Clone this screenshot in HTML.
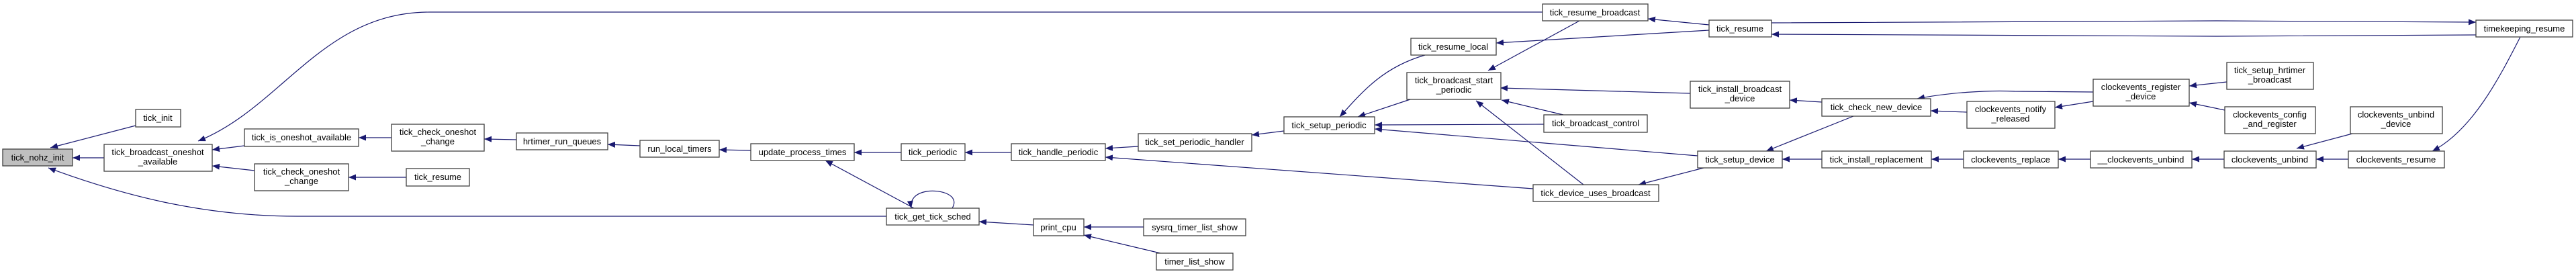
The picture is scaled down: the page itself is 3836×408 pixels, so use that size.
<!DOCTYPE html>
<html><head><meta charset="utf-8"><style>
html,body{margin:0;padding:0;background:#fff;}
svg{display:block;}
text{font-family:"Liberation Sans",sans-serif;font-size:13px;fill:#000;text-anchor:middle;}
rect{fill:#fff;stroke:#404040;stroke-width:1.3;}
path.e{fill:none;stroke:#191970;stroke-width:1.2;}
</style></head><body>
<svg width="3836" height="408" viewBox="0 0 3836 408" xmlns="http://www.w3.org/2000/svg">
<defs><marker id="a" markerUnits="userSpaceOnUse" markerWidth="12" markerHeight="9" refX="11" refY="4.5" orient="auto"><path d="M0,0 L11,4.5 L0,9 z" fill="#191970"/></marker></defs>
<g>
<path class="e" marker-end="url(#a)" d="M202,187 L75,220"/>
<path class="e" marker-end="url(#a)" d="M155,235 L108,235"/>
<path class="e" marker-end="url(#a)" d="M1320,322 L442,322 C300,322 180,290 72,250"/>
<path class="e" marker-end="url(#a)" d="M2297,18 L640,18 C480,18 420,160 295,210"/>
<path class="e" marker-end="url(#a)" d="M364,217 L316,223"/>
<path class="e" marker-end="url(#a)" d="M379,254 L316,247"/>
<path class="e" marker-end="url(#a)" d="M605,264 L519,264"/>
<path class="e" marker-end="url(#a)" d="M583,205 L534,205"/>
<path class="e" marker-end="url(#a)" d="M769,208 L721,207"/>
<path class="e" marker-end="url(#a)" d="M953,217 L905,215"/>
<path class="e" marker-end="url(#a)" d="M1118,224 L1071,223"/>
<path class="e" marker-end="url(#a)" d="M1342,227 L1272,227"/>
<path class="e" marker-end="url(#a)" d="M1361,310 L1229,239"/>
<path class="e" marker-end="url(#a)" d="M1418,310 C1430,290 1400,282 1380,285 C1362,288 1355,298 1357,310"/>
<path class="e" marker-end="url(#a)" d="M1506,227 L1437,227"/>
<path class="e" marker-end="url(#a)" d="M1695,218 L1646,221"/>
<path class="e" marker-end="url(#a)" d="M1912,195 L1864,201"/>
<path class="e" marker-end="url(#a)" d="M1539,335 L1458,330"/>
<path class="e" marker-end="url(#a)" d="M1703,338 L1614,338"/>
<path class="e" marker-end="url(#a)" d="M1728,377 L1614,350"/>
<path class="e" marker-end="url(#a)" d="M2283,281 L1646,234"/>
<path class="e" marker-end="url(#a)" d="M2122,82 C2060,100 2030,135 1995,174"/>
<path class="e" marker-end="url(#a)" d="M2100,148 L2022,174"/>
<path class="e" marker-end="url(#a)" d="M2299,185 L2047,186"/>
<path class="e" marker-end="url(#a)" d="M2528,232 L2047,192"/>
<path class="e" marker-end="url(#a)" d="M2352,31 L2216,105"/>
<path class="e" marker-end="url(#a)" d="M2545,37 L2454,28"/>
<path class="e" marker-end="url(#a)" d="M2545,45 L2228,64"/>
<path class="e" marker-end="url(#a)" d="M2517,139 L2234,131"/>
<path class="e" marker-end="url(#a)" d="M2328,171 L2236,149"/>
<path class="e" marker-end="url(#a)" d="M2358,275 L2198,150"/>
<path class="e" marker-end="url(#a)" d="M2537,250 L2440,275"/>
<path class="e" marker-end="url(#a)" d="M2760,173 L2630,225"/>
<path class="e" marker-end="url(#a)" d="M2713,152 L2665,149"/>
<path class="e" marker-end="url(#a)" d="M2713,237 L2654,237"/>
<path class="e" marker-end="url(#a)" d="M2638,34 L3300,31 L3687,33"/>
<path class="e" marker-end="url(#a)" d="M3687,52 L3300,54 L2638,51"/>
<path class="e" marker-end="url(#a)" d="M2929,167 L2875,165"/>
<path class="e" marker-end="url(#a)" d="M3117,137 L3000,136 C2960,134 2900,138 2855,147"/>
<path class="e" marker-end="url(#a)" d="M3117,151 L3060,160"/>
<path class="e" marker-end="url(#a)" d="M3316,122 L3260,128"/>
<path class="e" marker-end="url(#a)" d="M3313,164 L3260,153"/>
<path class="e" marker-end="url(#a)" d="M2924,237 L2876,237"/>
<path class="e" marker-end="url(#a)" d="M3113,237 L3065,237"/>
<path class="e" marker-end="url(#a)" d="M3312,237 L3264,237"/>
<path class="e" marker-end="url(#a)" d="M3497,237 L3449,237"/>
<path class="e" marker-end="url(#a)" d="M3503,199 L3420,221"/>
<path class="e" marker-end="url(#a)" d="M3753,55 C3720,120 3680,195 3622,225"/>
</g>
<g>
<rect x="4" y="222" width="104" height="25" style="fill:#bfbfbf"/><text x="56" y="239">tick_nohz_init</text>
<rect x="202" y="163" width="67" height="26"/><text x="235" y="180">tick_init</text>
<rect x="155" y="215" width="161" height="40"/><text x="235" y="231">tick_broadcast_oneshot</text><text x="235" y="245">_available</text>
<rect x="364" y="192" width="170" height="26"/><text x="449" y="209">tick_is_oneshot_available</text>
<rect x="583" y="185" width="138" height="40"/><text x="652" y="201">tick_check_oneshot</text><text x="652" y="215">_change</text>
<rect x="379" y="244" width="140" height="40"/><text x="449" y="260">tick_check_oneshot</text><text x="449" y="274">_change</text>
<rect x="605" y="251" width="94" height="26"/><text x="652" y="268">tick_resume</text>
<rect x="769" y="198" width="136" height="25"/><text x="837" y="215">hrtimer_run_queues</text>
<rect x="953" y="209" width="118" height="25"/><text x="1012" y="226">run_local_timers</text>
<rect x="1118" y="214" width="154" height="25"/><text x="1195" y="231">update_process_times</text>
<rect x="1342" y="214" width="95" height="25"/><text x="1389" y="231">tick_periodic</text>
<rect x="1320" y="310" width="138" height="25"/><text x="1389" y="327">tick_get_tick_sched</text>
<rect x="1506" y="214" width="140" height="25"/><text x="1576" y="231">tick_handle_periodic</text>
<rect x="1695" y="199" width="169" height="26"/><text x="1779" y="216">tick_set_periodic_handler</text>
<rect x="1912" y="174" width="135" height="25"/><text x="1979" y="191">tick_setup_periodic</text>
<rect x="1539" y="326" width="75" height="25"/><text x="1576" y="343">print_cpu</text>
<rect x="1703" y="326" width="152" height="25"/><text x="1779" y="343">sysrq_timer_list_show</text>
<rect x="1722" y="377" width="114" height="25"/><text x="1779" y="394">timer_list_show</text>
<rect x="2101" y="57" width="127" height="25"/><text x="2164" y="74">tick_resume_local</text>
<rect x="2095" y="108" width="140" height="40"/><text x="2165" y="124">tick_broadcast_start</text><text x="2165" y="138">_periodic</text>
<rect x="2297" y="6" width="157" height="25"/><text x="2375" y="23">tick_resume_broadcast</text>
<rect x="2299" y="171" width="154" height="26"/><text x="2376" y="188">tick_broadcast_control</text>
<rect x="2283" y="275" width="187" height="25"/><text x="2376" y="292">tick_device_uses_broadcast</text>
<rect x="2545" y="30" width="93" height="25"/><text x="2591" y="47">tick_resume</text>
<rect x="2517" y="121" width="148" height="40"/><text x="2591" y="137">tick_install_broadcast</text><text x="2591" y="151">_device</text>
<rect x="2528" y="225" width="126" height="25"/><text x="2591" y="242">tick_setup_device</text>
<rect x="2713" y="147" width="162" height="26"/><text x="2794" y="164">tick_check_new_device</text>
<rect x="2713" y="225" width="163" height="25"/><text x="2794" y="242">tick_install_replacement</text>
<rect x="2929" y="151" width="131" height="40"/><text x="2994" y="167">clockevents_notify</text><text x="2994" y="181">_released</text>
<rect x="2924" y="225" width="141" height="25"/><text x="2994" y="242">clockevents_replace</text>
<rect x="3117" y="118" width="143" height="40"/><text x="3188" y="134">clockevents_register</text><text x="3188" y="148">_device</text>
<rect x="3113" y="225" width="151" height="25"/><text x="3188" y="242">__clockevents_unbind</text>
<rect x="3316" y="93" width="129" height="40"/><text x="3380" y="109">tick_setup_hrtimer</text><text x="3380" y="123">_broadcast</text>
<rect x="3313" y="159" width="135" height="40"/><text x="3380" y="175">clockevents_config</text><text x="3380" y="189">_and_register</text>
<rect x="3312" y="225" width="137" height="25"/><text x="3380" y="242">clockevents_unbind</text>
<rect x="3500" y="159" width="137" height="40"/><text x="3568" y="175">clockevents_unbind</text><text x="3568" y="189">_device</text>
<rect x="3497" y="225" width="143" height="25"/><text x="3568" y="242">clockevents_resume</text>
<rect x="3687" y="30" width="144" height="25"/><text x="3759" y="47">timekeeping_resume</text>
</g>
</svg>
</body></html>
